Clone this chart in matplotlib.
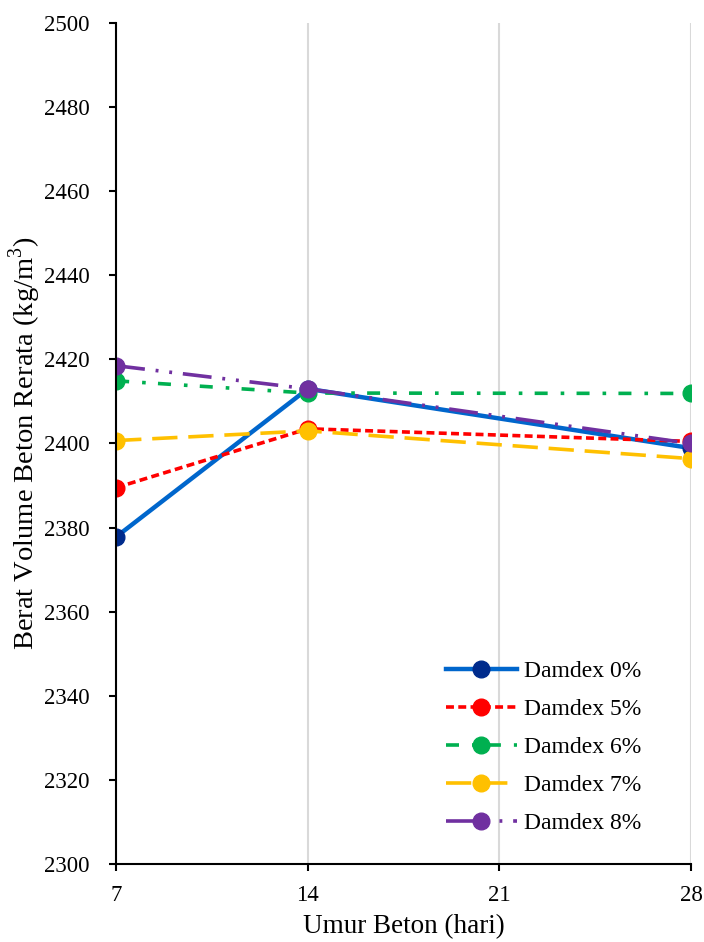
import matplotlib
matplotlib.use("Agg")
import matplotlib.pyplot as plt

plt.rcParams.update({
    "font.family": ["Liberation Serif", "DejaVu Serif"],
    "mathtext.fontset": "custom",
    "mathtext.rm": "Liberation Serif",
})

# ── data ──
umur = [7, 14, 28]
d0 = [2377.8, 2413.0, 2398.9]
d5 = [2389.5, 2403.5, 2400.5]
d6 = [2414.9, 2412.0, 2411.9]
d7 = [2400.7, 2403.0, 2396.4]
d8 = [2418.5, 2413.0, 2400.0]
labels = ["Damdex 0%", "Damdex 5%", "Damdex 6%", "Damdex 7%", "Damdex 8%"]
xticks = [7, 14, 21, 28]

styles = [
    dict(color="#0066CC", mfc="#002B8C", mec="#002B8C", lw=3.2, ls="-"),
    dict(color="#FF0000", mfc="#FF0000", mec="#FF0000", lw=2.6, ls=(0, (2.2, 1.2))),
    dict(color="#00B050", mfc="#00B050", mec="#00B050", lw=2.6, ls=(0, (3.6, 3.6, 1.0, 3.4))),
    dict(color="#FFC000", mfc="#FFC000", mec="#FFC000", lw=2.6, ls=(0, (7, 3))),
    dict(color="#7030A0", mfc="#7030A0", mec="#7030A0", lw=2.6, ls=(0, (8, 3, 0.8, 3, 0.8, 3))),
]

fig = plt.figure(figsize=(7.04, 9.42), dpi=100)
ax = fig.add_axes([0.165, 0.0828, 0.8165, 0.8928])

for y, lab, st in zip([d0, d5, d6, d7, d8], labels, styles):
    ax.plot(umur, y, marker="o", ms=12, label=lab, **st)

ax.set_xlim(7, 28)
ax.set_ylim(2300, 2500)
ax.set_xticks(xticks)
ax.set_yticks(range(2300, 2501, 20))
ax.grid(axis="x", color="#D9D9D9", lw=1.5)
ax.set_axisbelow(True)
for s in ["top", "right"]:
    ax.spines[s].set_visible(False)
for s in ["left", "bottom"]:
    ax.spines[s].set_linewidth(1.5)
ax.tick_params(axis="both", labelsize=16.5, width=1.5, length=5, direction="out")
ax.tick_params(axis="y", pad=14)
ax.tick_params(axis="x", pad=10)

ax.set_xlabel("Umur Beton (hari)", fontsize=19.5, labelpad=6)
ax.set_ylabel("Berat Volume Beton Rerata (kg/m$^3$)", fontsize=20.5, labelpad=1)

ax.legend(loc="lower right", bbox_to_anchor=(0.95, 0.01), frameon=False,
          fontsize=17, handlelength=3.0, labelspacing=0.7, handletextpad=0.3)

fig.savefig("out.png", dpi=100)
